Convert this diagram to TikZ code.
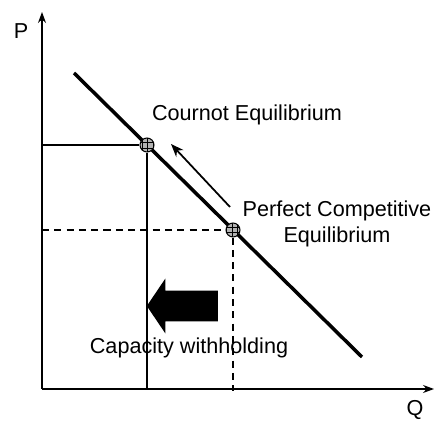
\documentclass[tikz,border=0pt]{standalone}
\usepackage{fontspec}
\setmainfont{Liberation Sans}
\usetikzlibrary{
    arrows.meta,
    positioning,
    shapes.arrows,
    patterns
}
\tikzset{
    axis/.style={
        -{Stealth[length=2.2mm,width=1.6mm]},
        line width=0.6pt
    },
    demand/.style={
        line width=2pt
    },
    guide/.style={
        line width=0.8pt
    },
    guidedash/.style={
        line width=1pt,
        dash pattern=on 4pt off 3pt
    },
    eqpt/.style={
        draw,
        circle,
        inner sep=0pt,
        minimum size=0.28cm,
        line width=0.6pt,
        preaction={fill=gray!60},
        pattern=grid
    },
    lab/.style={
        font=\fontsize{12.3}{14.5}\selectfont,
        align=center
    },
    movearr/.style={
        -{Stealth[length=2.6mm,width=2mm]},
        line width=1pt
    },
    blockarr/.style={
        single arrow,
        fill=black,
        shape border rotate=180,
        minimum height=1.42cm,
        inner xsep=0pt,
        inner ysep=0.3cm,
        single arrow head extend=0.24cm,
        single arrow tip angle=112
    }
}

\begin{document}
\begin{tikzpicture}[x=0.02cm,y=-0.02cm,font=\fontsize{12.3}{14.5}\selectfont]
\useasboundingbox (0,0) rectangle (437,422);
\coordinate (o) at (42,389);
\coordinate (ytop) at (42,12);
\coordinate (xend) at (434,389);
\draw[axis] (o) -- (ytop);
\draw[axis] (o) -- (xend);
\node (p) at (21,31) {P};
\node (q) at (415,410) {Q};
\coordinate (d1) at (74,73);
\coordinate (d2) at (362,357);
\draw[demand] (d1) -- (d2);
\node[eqpt] (cour) at (147,145) {};
\node[eqpt] (perf) at (233,230) {};
\coordinate (pc) at (42,145);
\coordinate (qc) at (147,389);
\coordinate (pp) at (42,230);
\coordinate (qp) at (233,391);
\draw[guide] (pc) -- (cour.west);
\draw[guide] (cour.south) -- (qc);
\draw[guidedash] (pp) -- (perf.west);
\draw[guidedash] (perf.south) -- (qp);
\node[lab] (courlab) at (247,115) {Cournot Equilibrium};
\node[lab] (perflab) at (337,224) {Perfect Competitive\\Equilibrium};
\coordinate (mvs) at (230,207);
\coordinate (mve) at (171,144);
\draw[movearr] (mvs) -- (mve);
\node[blockarr] (withhold) at (187.5,306) {};
\node[lab] (caplab) at (189,348) {Capacity withholding};
\end{tikzpicture}
\end{document}
